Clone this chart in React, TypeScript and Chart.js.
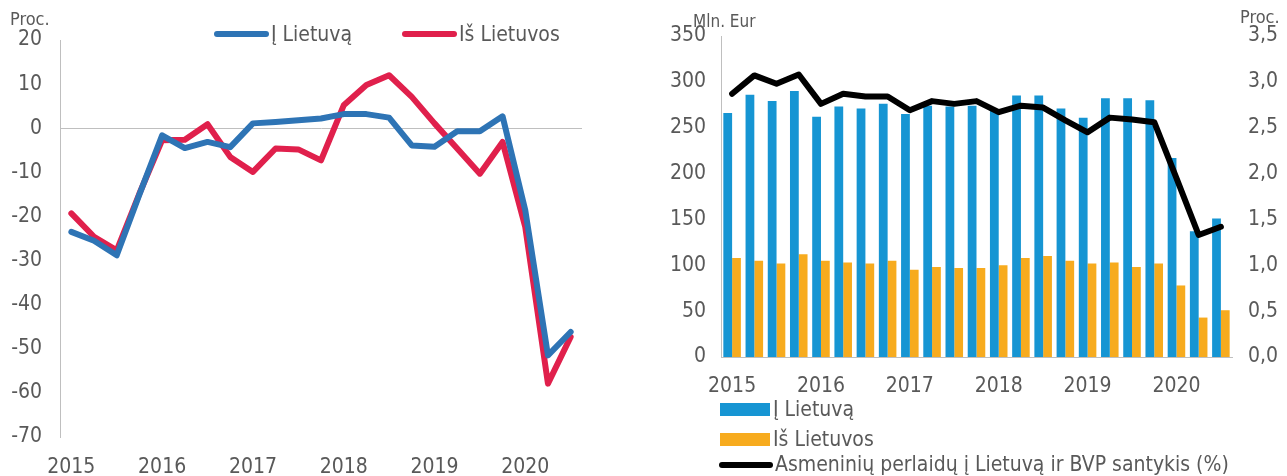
import React, { useEffect, useRef } from 'react';
import { Chart, registerables } from 'chart.js';

Chart.register(...registerables);

// Quarterly categories, 2015 Q1 – 2020 Q3
const categories = [
  '2015 I', '2015 II', '2015 III', '2015 IV',
  '2016 I', '2016 II', '2016 III', '2016 IV',
  '2017 I', '2017 II', '2017 III', '2017 IV',
  '2018 I', '2018 II', '2018 III', '2018 IV',
  '2019 I', '2019 II', '2019 III', '2019 IV',
  '2020 I', '2020 II', '2020 III',
];
const yearLabels = ['2015', '2016', '2017', '2018', '2019', '2020'];

// Left panel: annual change, %
const changeToLithuania = [-23.5, -25.5, -28.8, -15, -1.6, -4.5, -3.1, -4.3, 1.1, 1.4, 1.8, 2.2, 3.2, 3.2, 2.4, -3.9, -4.2, -0.7, -0.7, 2.7, -18.6, -51.5, -46.2];
const changeFromLithuania = [-19.3, -24.6, -27.7, -14.8, -2.7, -2.6, 0.9, -6.5, -9.9, -4.6, -4.8, -7.3, 5.2, 9.8, 12.0, 7.1, 1.1, -4.6, -10.3, -3.1, -22.4, -57.9, -47.3];

// Right panel: EUR million and % of GDP
const toLithuaniaMln = [266, 286, 279, 290, 262, 273, 271, 276, 265, 274, 273, 274, 269, 285, 285, 271, 261, 282, 282, 280, 217, 137, 151];
const fromLithuaniaMln = [108, 105, 102, 112, 105, 103, 102, 105, 95, 98, 97, 97, 100, 108, 110, 105, 102, 103, 98, 102, 78, 43, 51];
const remittanceToGdp = [2.87, 3.07, 2.98, 3.08, 2.76, 2.87, 2.84, 2.84, 2.69, 2.79, 2.76, 2.79, 2.67, 2.74, 2.72, 2.58, 2.45, 2.61, 2.59, 2.56, 1.95, 1.33, 1.42];

const labelsLeft = ['Į Lietuvą', 'Iš Lietuvos'];
const labelsRight = ['Į Lietuvą', 'Iš Lietuvos', 'Asmeninių perlaidų į Lietuvą ir BVP santykis (%)'];

const FONT = "'DejaVu Sans Condensed', 'Liberation Sans', Arial, sans-serif";
const TXT = '#595959';
const AXIS = '#bfbfbf';
const BLUE_LINE = '#2e74b5';
const RED_LINE = '#e0204c';
const BLUE_BAR = '#1695d3';
const ORANGE_BAR = '#f7ab1e';

const yearTick = (_v: any, i: number) => (i % 4 === 0 ? yearLabels[i / 4] : '');

function LeftChart() {
  const ref = useRef<HTMLCanvasElement>(null);
  useEffect(() => {
    const chart = new Chart(ref.current!, {
      type: 'line',
      data: {
        labels: categories,
        datasets: [
          { label: labelsLeft[0], data: changeToLithuania, borderColor: BLUE_LINE, borderWidth: 6, pointRadius: 0, tension: 0, borderJoinStyle: 'round', borderCapStyle: 'round' },
          { label: labelsLeft[1], data: changeFromLithuania, borderColor: RED_LINE, borderWidth: 6, pointRadius: 0, tension: 0, borderJoinStyle: 'round', borderCapStyle: 'round' },
        ],
      },
      options: {
        responsive: false,
        animation: false,
        layout: { padding: { top: 40, right: 58, left: 0, bottom: 0 } },
        plugins: { legend: { display: false }, tooltip: { enabled: false } },
        scales: {
          x: {
            offset: true,
            grid: { display: false, drawTicks: false, tickLength: 0 },
            border: { display: false },
            ticks: { autoSkip: false, maxRotation: 0, padding: 18, color: TXT, font: { family: FONT, size: 21 }, callback: yearTick },
            afterFit: (s: any) => { s.height = 39; },
          },
          y: {
            min: -70, max: 20,
            ticks: { stepSize: 10, padding: 18, color: TXT, font: { family: FONT, size: 21 } },
            grid: { drawTicks: false, tickLength: 0, color: (c: any) => (c.tick && c.tick.value === 0 ? AXIS : 'rgba(0,0,0,0)') },
            border: { display: true, color: AXIS },
            afterFit: (s: any) => { s.width = 60; },
          },
        },
      },
    });
    return () => chart.destroy();
  }, []);
  return <canvas ref={ref} width={640} height={476} style={{ position: 'absolute', left: 0, top: 0, width: 640, height: 476 }} />;
}

function RightChart() {
  const ref = useRef<HTMLCanvasElement>(null);
  useEffect(() => {
    const chart = new Chart(ref.current!, {
      type: 'bar',
      data: {
        labels: categories,
        datasets: [
          { type: 'line', label: labelsRight[2], data: remittanceToGdp, yAxisID: 'y2', borderColor: '#000', borderWidth: 6, pointRadius: 0, tension: 0, borderJoinStyle: 'round', borderCapStyle: 'round', order: 0 } as any,
          { label: labelsRight[0], data: toLithuaniaMln, backgroundColor: BLUE_BAR, yAxisID: 'y', categoryPercentage: 0.79, barPercentage: 1, order: 1 },
          { label: labelsRight[1], data: fromLithuaniaMln, backgroundColor: ORANGE_BAR, yAxisID: 'y', categoryPercentage: 0.79, barPercentage: 1, order: 1 },
        ],
      },
      options: {
        responsive: false,
        animation: false,
        layout: { padding: { top: 36, right: 0, left: 0, bottom: 0 } },
        plugins: { legend: { display: false }, tooltip: { enabled: false } },
        scales: {
          x: {
            offset: true,
            grid: { display: false, drawTicks: false, tickLength: 0 },
            border: { display: true, color: AXIS },
            ticks: { autoSkip: false, maxRotation: 0, padding: 17, color: TXT, font: { family: FONT, size: 21 }, callback: yearTick },
            afterFit: (s: any) => { s.height = 119; },
          },
          y: {
            position: 'left',
            min: 0, max: 350,
            ticks: { stepSize: 50, padding: 15, color: TXT, font: { family: FONT, size: 21 } },
            grid: { display: false, drawTicks: false, tickLength: 0 },
            border: { display: true, color: AXIS },
            afterFit: (s: any) => { s.width = 81; },
          },
          y2: {
            position: 'right',
            min: 0, max: 3.5,
            ticks: { stepSize: 0.5, padding: 16, color: TXT, font: { family: FONT, size: 21 }, callback: (v: any) => Number(v).toFixed(1).replace('.', ',') },
            grid: { display: false, drawTicks: false, tickLength: 0 },
            border: { display: false },
            afterFit: (s: any) => { s.width = 55; },
          },
        },
      },
    });
    return () => chart.destroy();
  }, []);
  return <canvas ref={ref} width={647} height={476} style={{ position: 'absolute', left: 640, top: 0, width: 647, height: 476 }} />;
}

const txt = (left: number, centerY: number, text: string, size = 21, extra: any = {}) => (
  <div style={{ position: 'absolute', left, top: centerY - 12, height: 24, lineHeight: '24px', fontSize: size, fontFamily: FONT, color: TXT, whiteSpace: 'nowrap', ...extra }}>{text}</div>
);

export default function App() {
  return (
    <div style={{ position: 'absolute', left: 0, top: 0, width: 1287, height: 476, background: '#fff', overflow: 'hidden' }}>
      <LeftChart />
      <RightChart />
      {/* left panel axis title and legend */}
      {txt(10, 19, 'Proc.', 18)}
      <div style={{ position: 'absolute', left: 214, top: 31, width: 55, height: 6, borderRadius: 3, background: BLUE_LINE }} />
      {txt(271, 34, labelsLeft[0])}
      <div style={{ position: 'absolute', left: 402, top: 31, width: 55, height: 6, borderRadius: 3, background: RED_LINE }} />
      {txt(459, 34, labelsLeft[1])}
      {/* right panel axis titles */}
      {txt(693, 21, 'Mln. Eur', 17)}
      {txt(1240, 17, 'Proc.', 18)}
      {/* right panel legend */}
      <div style={{ position: 'absolute', left: 720, top: 403, width: 50, height: 13, background: BLUE_BAR }} />
      {txt(773, 409, labelsRight[0])}
      <div style={{ position: 'absolute', left: 720, top: 433, width: 50, height: 13, background: ORANGE_BAR }} />
      {txt(773, 439, labelsRight[1])}
      <div style={{ position: 'absolute', left: 719, top: 462, width: 54, height: 6, borderRadius: 3, background: '#000' }} />
      {txt(775, 464, labelsRight[2])}
    </div>
  );
}
